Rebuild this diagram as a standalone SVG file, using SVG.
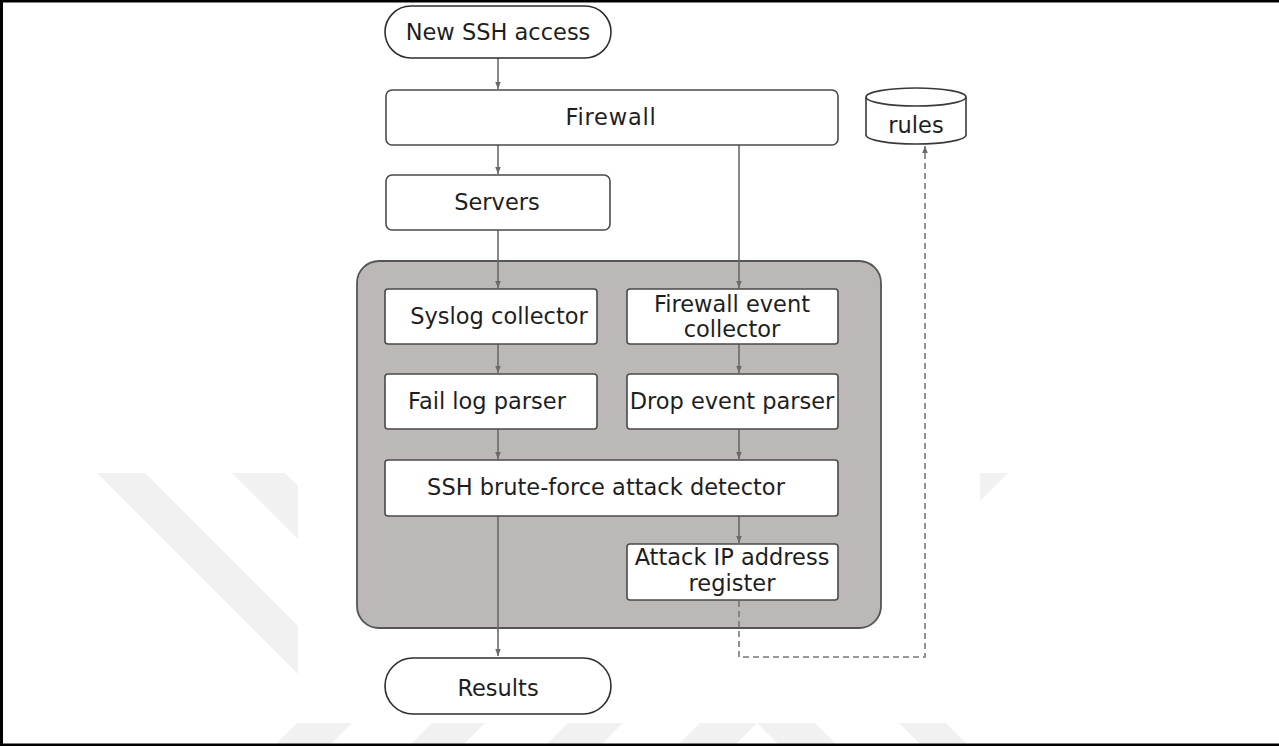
<svg xmlns="http://www.w3.org/2000/svg" width="1279" height="746" viewBox="0 0 1279 746">
  <style>
    .lbl { font-family: "DejaVu Sans", Verdana, sans-serif; font-size: 22.5px; fill: #1e1e1e; text-anchor: middle; }
    .box { fill: #ffffff; stroke: #4a4a4a; stroke-width: 1.6; }
    .pill { fill: #ffffff; stroke: #2e2e2e; stroke-width: 1.6; }
    .edge { fill: none; stroke: #6a6a6a; stroke-width: 1.6; }
    .dash { fill: none; stroke: #777777; stroke-width: 1.6; stroke-dasharray: 6 4; }
    .mark { fill: #f1f1f1; }
  </style>
  <defs>
    <marker id="arrow" viewBox="0 0 10 10" refX="10" refY="5" markerWidth="7" markerHeight="7" markerUnits="userSpaceOnUse" orient="auto">
      <path d="M0,1 L10,5 L0,9 Z" fill="#6a6a6a"/>
    </marker>
  </defs>

  <!-- page background -->
  <rect x="0" y="0" width="1279" height="746" fill="#ffffff"/>

  <!-- faint background emblem -->
  <g id="emblem">
    <polygon class="mark" points="97,473 145,473 395,723 347,723"/>
    <polygon class="mark" points="232,473 285,473 535,723 482,723"/>
    <polygon class="mark" points="960,473 1008,473 960,521"/>
    <polygon class="mark" points="297,723 352,723 331,744 276,744"/>
    <polygon class="mark" points="432,723 485,723 464,744 411,744"/>
    <polygon class="mark" points="568,723 623,723 602,744 547,744"/>
    <polygon class="mark" points="700,723 815,723 836,744 778,744 757,723 736,744 679,744"/>
    <polygon class="mark" points="899,723 946,723 967,744 920,744"/>
  </g>
  <!-- white sheet under the flowchart -->
  <rect x="298" y="0" width="682" height="723" fill="#ffffff"/>

  <!-- frame -->
  <rect x="0" y="0" width="1279" height="2.5" fill="#000000"/>
  <rect x="0" y="0" width="3" height="746" fill="#000000"/>
  <rect x="0" y="743.5" width="1279" height="2.5" fill="#000000"/>

  <!-- processing container -->
  <g id="container">
    <rect x="357" y="261" width="524" height="367" rx="22" ry="22" fill="#bcb8b7" stroke="#555555" stroke-width="1.8"/>
  </g>

  <!-- connectors -->
  <g id="connectors">
    <path class="edge" d="M498,58 V89" marker-end="url(#arrow)"/>
    <path class="edge" d="M498,145 V174" marker-end="url(#arrow)"/>
    <path class="edge" d="M739,145 V288" marker-end="url(#arrow)"/>
    <path class="edge" d="M498,230 V288" marker-end="url(#arrow)"/>
    <path class="edge" d="M498,344 V373" marker-end="url(#arrow)"/>
    <path class="edge" d="M739,344 V373" marker-end="url(#arrow)"/>
    <path class="edge" d="M498,429 V459" marker-end="url(#arrow)"/>
    <path class="edge" d="M739,429 V459" marker-end="url(#arrow)"/>
    <path class="edge" d="M739,516 V543" marker-end="url(#arrow)"/>
    <path class="edge" d="M498,516 V656" marker-end="url(#arrow)"/>
    <path class="dash" d="M739,601 V657 H925 V146" marker-end="url(#arrow)"/>
  </g>

  <g id="new-ssh-access">
    <rect class="pill" x="385" y="6" width="226" height="52" rx="26" ry="26"/>
    <text class="lbl" x="498" y="40">New SSH access</text>
  </g>

  <g id="firewall">
    <rect class="box" x="386" y="90" width="452" height="55" rx="6" ry="6"/>
    <text class="lbl" x="611" y="125" letter-spacing="0.8">Firewall</text>
  </g>

  <g id="rules">
    <path d="M866,97 A50,9 0 0 1 966,97 V135 A50,9 0 0 1 866,135 Z" fill="#ffffff" stroke="#3a3a3a" stroke-width="1.6"/>
    <path d="M866,97 A50,9 0 0 0 966,97" fill="none" stroke="#3a3a3a" stroke-width="1.6"/>
    <text class="lbl" x="916" y="133">rules</text>
  </g>

  <g id="servers">
    <rect class="box" x="386" y="175" width="224" height="55" rx="6" ry="6"/>
    <text class="lbl" x="497" y="210">Servers</text>
  </g>

  <g id="syslog-collector">
    <rect class="box" x="385" y="289" width="212" height="55" rx="3" ry="3"/>
    <text class="lbl" x="499" y="324">Syslog collector</text>
  </g>

  <g id="firewall-event-collector">
    <rect class="box" x="627" y="289" width="211" height="55" rx="3" ry="3"/>
    <text class="lbl" x="732" y="312">Firewall event</text>
    <text class="lbl" x="732" y="337">collector</text>
  </g>

  <g id="fail-log-parser">
    <rect class="box" x="385" y="374" width="212" height="55" rx="3" ry="3"/>
    <text class="lbl" x="487" y="409">Fail log parser</text>
  </g>

  <g id="drop-event-parser">
    <rect class="box" x="627" y="374" width="211" height="55" rx="3" ry="3"/>
    <text class="lbl" x="732" y="409">Drop event parser</text>
  </g>

  <g id="attack-detector">
    <rect class="box" x="385" y="460" width="453" height="56" rx="3" ry="3"/>
    <text class="lbl" x="606" y="495">SSH brute-force attack detector</text>
  </g>

  <g id="ip-register">
    <rect class="box" x="627" y="544" width="211" height="56" rx="3" ry="3"/>
    <text class="lbl" x="732" y="565">Attack IP address</text>
    <text class="lbl" x="732" y="591">register</text>
  </g>

  <g id="results">
    <rect class="pill" x="385" y="658" width="226" height="56" rx="28" ry="28"/>
    <text class="lbl" x="498" y="696">Results</text>
  </g>
</svg>
